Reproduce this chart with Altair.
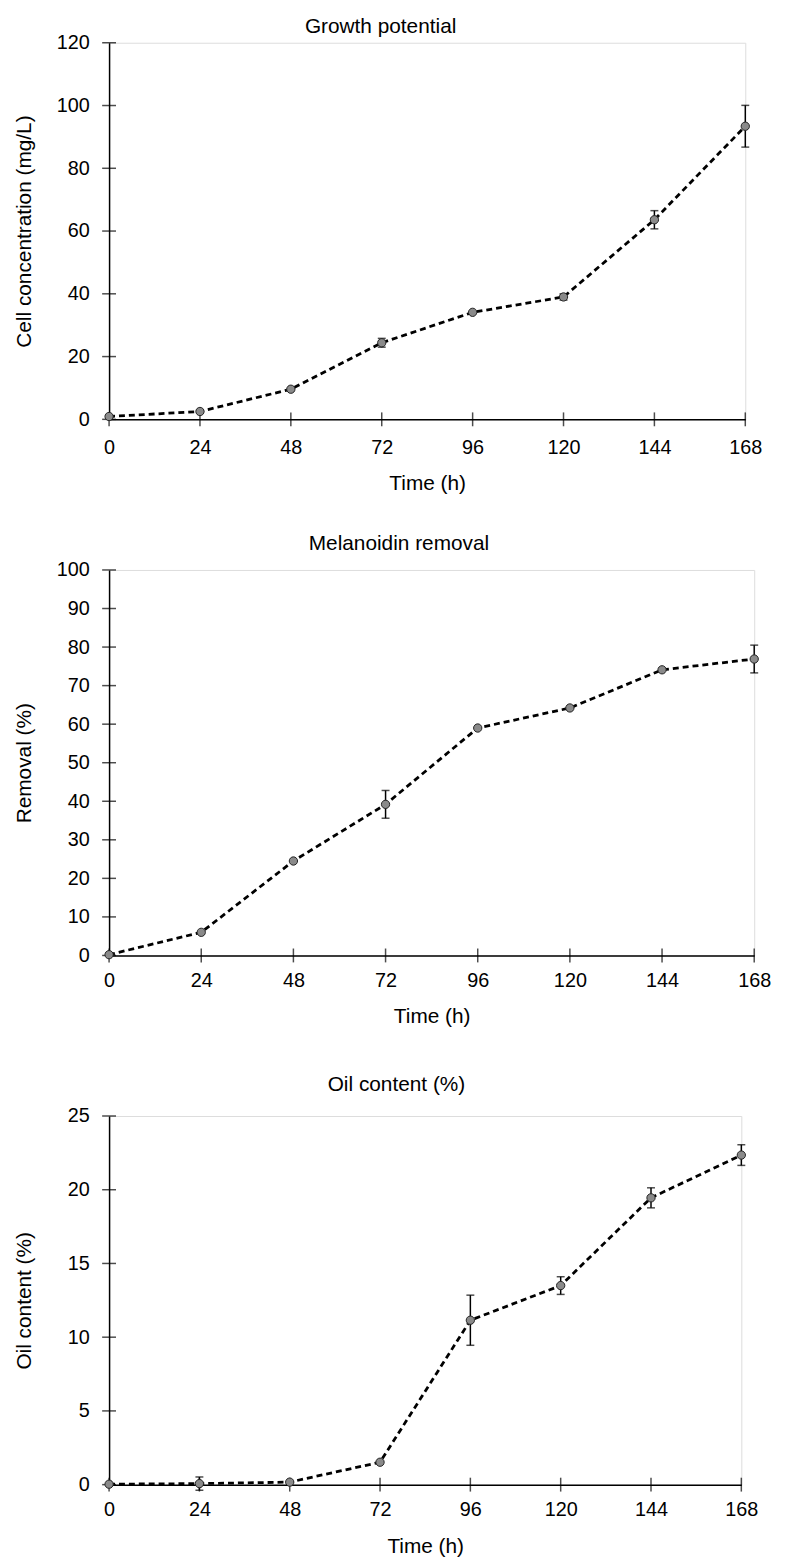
import altair as alt
import pandas as pd

# ---- data ----
TIME = [0, 24, 48, 72, 96, 120, 144, 168]
X_TICKS = [0, 24, 48, 72, 96, 120, 144, 168]

GROWTH = [0.9, 2.5, 9.6, 24.4, 34.1, 39.0, 63.6, 93.4]
GROWTH_ERR = [0.0, 0.0, 0.0, 1.4, 0.0, 1.0, 2.9, 6.65]
GROWTH_TICKS = [0, 20, 40, 60, 80, 100, 120]

REMOVAL = [0.2, 6.0, 24.5, 39.2, 59.0, 64.2, 74.1, 76.9]
REMOVAL_ERR = [0.0, 0.0, 0.0, 3.6, 0.0, 0.0, 0.0, 3.6]
REMOVAL_TICKS = [0, 10, 20, 30, 40, 50, 60, 70, 80, 90, 100]

OIL = [0.03, 0.07, 0.17, 1.52, 11.15, 13.5, 19.45, 22.35]
OIL_ERR = [0.0, 0.45, 0.0, 0.0, 1.7, 0.6, 0.68, 0.7]
OIL_TICKS = [0, 5, 10, 15, 20, 25]

FONT = "Liberation Sans"


def panel(title, ytitle, values, errs, yticks, ymax, width, height,
          title_dx, title_offset, label_pad_x, ytitle_pad):
    df = pd.DataFrame({"t": TIME, "v": values, "e": errs})
    df["lo"] = df["v"] - df["e"]
    df["hi"] = df["v"] + df["e"]
    err_df = df[df["e"] > 0]

    xticks_df = pd.DataFrame({"t": X_TICKS, "v": [0] * len(X_TICKS)})
    yticks_df = pd.DataFrame({"t": [0] * len(yticks), "v": yticks})

    xscale = alt.Scale(domain=[0, 168], nice=False, zero=False)
    yscale = alt.Scale(domain=[0, ymax], nice=False, zero=False)
    xaxis = alt.Axis(values=X_TICKS, ticks=False, grid=False, labelPadding=label_pad_x,
                     title="Time (h)", titlePadding=16, domainColor="black",
                     domainWidth=1.5, labelFontSize=20, titleFontSize=21,
                     labelFont=FONT, titleFont=FONT, labelColor="black",
                     titleColor="black", titleFontWeight="normal",
                     labelFlush=False)
    yaxis = alt.Axis(values=yticks, ticks=False, grid=False, labelPadding=20,
                     title=ytitle, titlePadding=ytitle_pad, domainColor="black",
                     domainWidth=1.5, labelFontSize=20, titleFontSize=21,
                     labelFont=FONT, titleFont=FONT, labelColor="black",
                     titleColor="black", titleFontWeight="normal",
                     labelFlush=False)

    def X(field="t"):
        return alt.X(f"{field}:Q", scale=xscale, axis=xaxis, title="Time (h)")

    def Y(field="v"):
        return alt.Y(f"{field}:Q", scale=yscale, axis=yaxis, title=ytitle)

    xt = alt.Chart(xticks_df).mark_tick(orient="vertical", size=14, thickness=1.5,
                                        color="black").encode(x=X(), y=Y())
    yt = alt.Chart(yticks_df).mark_tick(orient="horizontal", size=14, thickness=1.5,
                                        color="black").encode(x=X(), y=Y())
    line = alt.Chart(df).mark_line(color="black", strokeWidth=2.8,
                                   strokeDash=[6, 4]).encode(x=X(), y=Y())
    rule = alt.Chart(err_df).mark_rule(color="black", strokeWidth=1.5).encode(
        x=X(), y=Y("lo"), y2="hi:Q")
    cap_lo = alt.Chart(err_df).mark_tick(orient="horizontal", size=8, thickness=1.5,
                                         color="black").encode(x=X(), y=Y("lo"))
    cap_hi = alt.Chart(err_df).mark_tick(orient="horizontal", size=8, thickness=1.5,
                                         color="black").encode(x=X(), y=Y("hi"))
    pts = alt.Chart(df).mark_point(filled=True, shape="circle", size=70,
                                   fill="#8a8a8a", stroke="#222222",
                                   strokeWidth=1, opacity=1).encode(x=X(), y=Y())

    return alt.layer(xt, yt, line, rule, cap_lo, cap_hi, pts).properties(
        width=width, height=height,
        title=alt.TitleParams(title, anchor="middle", frame="group", dx=title_dx,
                              offset=title_offset, baseline="middle", fontSize=21,
                              font=FONT, fontWeight="normal", color="black"))


p1 = panel("Growth potential", "Cell concentration (mg/L)", GROWTH, GROWTH_ERR,
           GROWTH_TICKS, 120, 642, 380, -47, -15, 18, 22)
p2 = panel("Melanoidin removal", "Removal (%)", REMOVAL, REMOVAL_ERR,
           REMOVAL_TICKS, 100, 651, 389, -33, -5, 15, 22)
p3 = panel("Oil content (%)", "Oil content (%)", OIL, OIL_ERR,
           OIL_TICKS, 25, 638, 372, -29, 0, 15, 33)

top = alt.vconcat(p1, p2, spacing=38)
chart = alt.vconcat(top, p3, spacing=46).configure_view(stroke=None).configure(
    padding={"left": 5, "top": 0, "right": 5, "bottom": 0})

chart.save("out.html", embed_options={"renderer": "svg", "actions": False})
